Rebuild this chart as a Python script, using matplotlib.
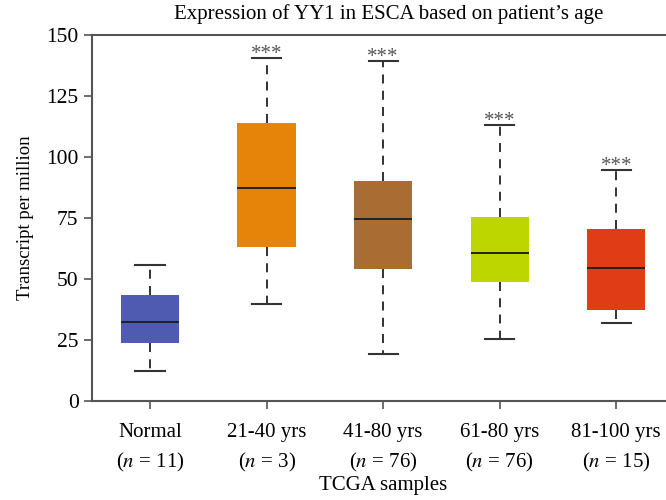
import matplotlib
matplotlib.use("Agg")
import matplotlib.pyplot as plt

plt.rcParams['font.family'] = ['Liberation Serif', 'DejaVu Serif']
plt.rcParams['mathtext.fontset'] = 'stix'

categories = ["Normal", "21-40 yrs", "41-80 yrs", "61-80 yrs", "81-100 yrs"]
n_labels = ["11", "3", "76", "76", "15"]
whisker_low = [12.2, 39.8, 19.3, 25.5, 32.1]
q1 = [23.9, 63.2, 54.2, 48.9, 37.4]
median = [32.2, 87.2, 74.6, 60.8, 54.6]
q3 = [43.4, 113.8, 90.2, 75.4, 70.5]
whisker_high = [55.9, 140.4, 139.3, 113.1, 94.5]
significance = ["", "***", "***", "***", "***"]
colors = ["#4F5BB0", "#E6840A", "#A96C33", "#BED600", "#E03C16"]

fig = plt.figure(figsize=(6.66, 5.0), dpi=100)
ax = fig.add_axes([0.1377, 0.198, 1.0128 - 0.1377, 0.732])

stats = []
for i, c in enumerate(categories):
    stats.append(dict(label=c, whislo=whisker_low[i], q1=q1[i], med=median[i],
                      q3=q3[i], whishi=whisker_high[i], fliers=[]))

positions = list(range(len(categories)))
bp = ax.bxp(stats, positions=positions, widths=0.5, patch_artist=True,
            showfliers=False,
            boxprops=dict(linewidth=0),
            medianprops=dict(color="#222222", linewidth=1.4),
            whiskerprops=dict(color="#222222", linewidth=1.3, linestyle=(0, (5, 4))),
            capprops=dict(color="#333333", linewidth=1.5),
            capwidths=0.25)
for patch, col in zip(bp['boxes'], colors):
    patch.set_facecolor(col)
    patch.set_edgecolor(col)

for i, s in enumerate(significance):
    if s:
        ax.text(positions[i], whisker_high[i] - 0.2, s, ha='center', va='baseline',
                fontsize=15, color='#555555')

ax.set_xlim(-0.5, 4.5)
ax.set_ylim(0, 150)
ax.set_yticks([0, 25, 50, 75, 100, 125, 150])
ax.set_xticks(positions)
ax.set_xticklabels([f"{c}\n($n$ = {n})" for c, n in zip(categories, n_labels)],
                   fontsize=15, linespacing=1.55)
ax.tick_params(axis='y', labelsize=15.5, length=6, width=1.2, color='#555555')
ax.tick_params(axis='x', length=6, width=1.2, color='#555555', pad=10)
for sp in ['left', 'bottom', 'top']:
    ax.spines[sp].set_color('#555555')
    ax.spines[sp].set_linewidth(1.5)
ax.spines['right'].set_visible(False)

ax.set_ylabel("Transcript per million", fontsize=13.5, labelpad=9)
ax.set_xlabel("TCGA samples", fontsize=15, labelpad=1)
fig.text(389 / 666, 1 - 14 / 500, "Expression of YY1 in ESCA based on patient’s age",
         fontsize=15, ha='center', va='center')

fig.savefig("out.png", dpi=100)
